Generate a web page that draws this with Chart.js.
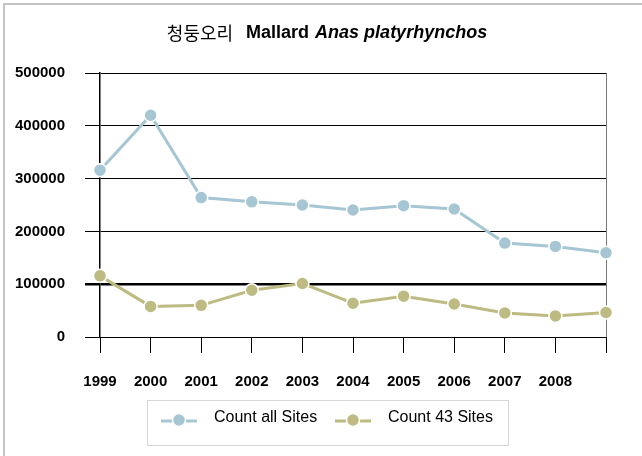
<!DOCTYPE html>
<html>
<head>
<meta charset="utf-8">
<script src="https://cdn.jsdelivr.net/npm/chart.js@4.4.0/dist/chart.umd.min.js"></script>
<style>
  html, body { margin: 0; padding: 0; background: #fff; }
  #wrap { position: relative; width: 642px; height: 456px; }
</style>
</head>
<body>
<div id="wrap"><canvas id="mallard" width="642" height="456"></canvas></div>
<script>
// Mallard (Anas platyrhynchos) counts per year, two series
const years = ['1999', '2000', '2001', '2002', '2003', '2004', '2005', '2006', '2007', '2008', '']
const countAllSites = [316000, 420000, 264000, 256000, 250000, 240500, 248700, 242400, 177900, 171600, 159500]
const count43Sites = [115800, 58000, 60000, 88600, 101400, 64000, 77300, 62600, 45600, 39900, 46300]
const seriesNames = ['Count all Sites', 'Count 43 Sites']
const seriesColors = ['#A6C6D3', '#BDBB82']

const titleParts = [
  { text: '청둥오리', font: '18px "Noto Sans CJK KR"', gap: 13 },
  { text: 'Mallard', font: 'bold 18px "Liberation Sans", Arial', gap: 6 },
  { text: 'Anas platyrhynchos', font: 'italic bold 18px "Liberation Sans", Arial', gap: 0 },
]

// page frame, title and the boxed legend
const decorations = {
  id: 'decorations',
  beforeDraw(chart) {
    const ctx = chart.ctx
    ctx.save()
    ctx.fillStyle = '#fff'
    ctx.fillRect(0, 0, chart.width, chart.height)
    ctx.strokeStyle = '#c4c4c4'
    ctx.lineWidth = 2
    ctx.beginPath()
    ctx.moveTo(4, chart.height)
    ctx.lineTo(4, 4)
    ctx.lineTo(chart.width, 4)
    ctx.stroke()
    ctx.restore()
  },
  afterDraw(chart) {
    const ctx = chart.ctx
    ctx.save()

    // title, mixed fonts
    let total = 0
    titleParts.forEach(p => {
      ctx.font = p.font
      total += ctx.measureText(p.text).width + p.gap
    })
    let x = 327 - total / 2
    ctx.fillStyle = '#000'
    ctx.textBaseline = 'middle'
    titleParts.forEach(p => {
      ctx.font = p.font
      ctx.fillText(p.text, x, 33)
      x += ctx.measureText(p.text).width + p.gap
    })

    // legend box
    ctx.strokeStyle = '#d6d6d6'
    ctx.lineWidth = 1
    ctx.strokeRect(147.5, 400.5, 361, 45)
    const starts = [161, 335]
    chart.data.datasets.forEach((ds, i) => {
      const x0 = starts[i]
      ctx.strokeStyle = ds.borderColor
      ctx.lineWidth = 3
      ctx.beginPath()
      ctx.moveTo(x0, 421)
      ctx.lineTo(x0 + 36, 421)
      ctx.stroke()
      ctx.beginPath()
      ctx.arc(x0 + 18, 420, 6.5, 0, Math.PI * 2)
      ctx.fillStyle = ds.backgroundColor
      ctx.fill()
      ctx.strokeStyle = '#fff'
      ctx.lineWidth = 1.5
      ctx.stroke()
      ctx.fillStyle = '#000'
      ctx.font = '16px "Liberation Sans", Arial'
      ctx.textBaseline = 'middle'
      ctx.fillText(ds.label, x0 + 53, 418)
    })
    ctx.restore()
  }
}

const makeSeries = (label, data, color) => ({
  label: label,
  data: data,
  borderColor: color,
  backgroundColor: color,
  borderWidth: 3,
  pointRadius: 6.5,
  pointHoverRadius: 6.5,
  pointBorderColor: '#fff',
  pointBorderWidth: 1.5,
  pointBackgroundColor: color,
  tension: 0,
  clip: false,
})

const ctx = document.getElementById('mallard').getContext('2d')
const chart = new Chart(ctx, {
  type: 'line',
  data: {
    labels: years,
    datasets: [
      makeSeries(seriesNames[0], countAllSites, seriesColors[0]),
      makeSeries(seriesNames[1], count43Sites, seriesColors[1]),
    ]
  },
  options: {
    responsive: false,
    animation: false,
    devicePixelRatio: 1,
    layout: { padding: { top: 73, right: 36, bottom: 59, left: 0 } },
    plugins: {
      legend: { display: false },
      title: { display: false },
      tooltip: { enabled: false },
    },
    scales: {
      x: {
        offset: false,
        afterFit: s => { s.height = 60 },
        grid: {
          drawOnChartArea: true,
          color: c => (c.index === years.length - 1 ? '#777' : 'rgba(0,0,0,0)'),
          tickColor: '#000',
          tickLength: 16,
          lineWidth: 1,
        },
        border: { display: true, color: '#000', width: 1 },
        ticks: {
          color: '#000',
          padding: 20,
          maxRotation: 0,
          autoSkip: false,
          font: { family: '"Liberation Sans", Arial', size: 15, weight: 'bold' },
        }
      },
      y: {
        min: 0,
        max: 500000,
        afterFit: s => { s.width = 100 },
        grid: {
          color: '#000',
          tickColor: '#000',
          tickLength: 15,
          lineWidth: c => (c.tick && c.tick.value === 100000 ? 2.5 : 1),
        },
        border: { display: true, color: '#000', width: 1.5 },
        ticks: {
          stepSize: 100000,
          color: '#000',
          padding: 20,
          callback: v => String(v),
          font: { family: '"Liberation Sans", Arial', size: 15, weight: 'bold' },
        }
      }
    }
  },
  plugins: [decorations]
})
</script>
</body>
</html>
